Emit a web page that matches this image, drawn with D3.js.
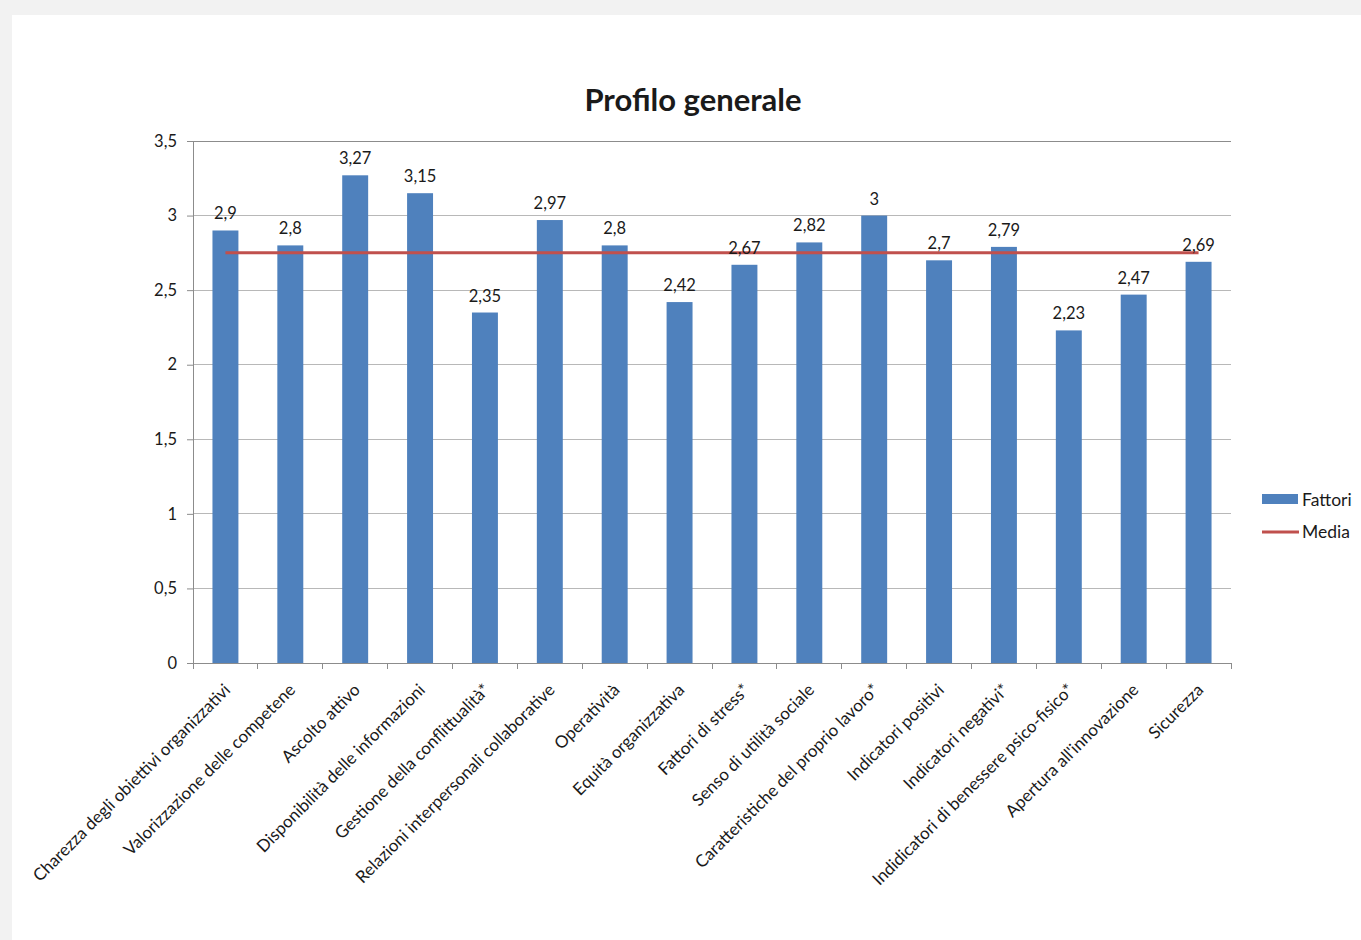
<!DOCTYPE html>
<html><head><meta charset="utf-8">
<script src="https://cdn.jsdelivr.net/npm/d3@7"></script>
<style>
html,body{margin:0;padding:0;background:#f2f2f2;}
svg{display:block;}
text{font-family:Lato,"Open Sans",sans-serif;fill:#1a1a1a;}
</style></head>
<body>
<svg id="c" width="1361" height="940"></svg>
<script>
const categories = ["Charezza degli obiettivi organizzativi","Valorizzazione delle competene","Ascolto attivo","Disponibilità delle informazioni","Gestione della conflittualità*","Relazioni interpersonali collaborative","Operatività","Equità organizzativa","Fattori di stress*","Senso di utilità sociale","Caratteristiche del proprio lavoro*","Indicatori positivi","Indicatori negativi*","Indidicatori di benessere psico-fisico*","Apertura all'innovazione","Sicurezza"];
const fattori = [2.9,2.8,3.27,3.15,2.35,2.97,2.8,2.42,2.67,2.82,3,2.7,2.79,2.23,2.47,2.69];
const media = [2.75,2.75,2.75,2.75,2.75,2.75,2.75,2.75,2.75,2.75,2.75,2.75,2.75,2.75,2.75,2.75];
const yTicks = [0,0.5,1,1.5,2,2.5,3,3.5];
const seriesNames = ["Fattori","Media"];

const svg = d3.select("#c");
svg.append("rect").attr("x",12).attr("y",15).attr("width",1349).attr("height",925).attr("fill","#fff");

const L=193,R=1231,T=141,B=663;
const x = d3.scaleBand().domain(categories).range([L,R]).paddingInner(0.6).paddingOuter(0.3);
const xb = d3.scaleBand().domain(categories).range([L,R]);
const y = d3.scaleLinear().domain([0,3.5]).range([B,T]);
const fmt = v => String(v).replace(".",",");

svg.append("text").attr("x",693).attr("y",111).attr("text-anchor","middle")
  .style("font-size","31px").style("font-weight","bold").text("Profilo generale");

// gridlines
svg.append("g").selectAll("line").data(yTicks.filter(d=>d>0)).join("line")
  .attr("x1",L).attr("x2",R).attr("y1",d=>y(d)).attr("y2",d=>y(d))
  .attr("stroke",d=>d===3.5?"#8c8c8c":"#b8b8b8").attr("stroke-width",1).attr("shape-rendering","crispEdges");

// y axis
const ya = svg.append("g").attr("transform",`translate(${L},0)`)
  .call(d3.axisLeft(y).tickValues(yTicks).tickSize(6).tickPadding(10).tickFormat(fmt));
ya.select(".domain").attr("stroke","#8c8c8c");
ya.selectAll(".tick line").attr("stroke","#8c8c8c");
ya.selectAll("text").style("font-size","16.5px").attr("fill","#1a1a1a").style("font-family","Lato");

// bars
svg.append("g").selectAll("rect").data(categories).join("rect")
  .attr("x",d=>x(d)).attr("width",x.bandwidth())
  .attr("y",(d,i)=>y(fattori[i])).attr("height",(d,i)=>y(0)-y(fattori[i]))
  .attr("fill","#4f81bd");

// x axis
const xa = svg.append("g").attr("transform",`translate(0,${B})`)
  .call(d3.axisBottom(xb).tickSize(0).tickFormat(""));
xa.select(".domain").attr("stroke","#8c8c8c");
svg.append("g").selectAll("line").data(d3.range(categories.length+1)).join("line")
  .attr("x1",i=>L+i*xb.step()).attr("x2",i=>L+i*xb.step()).attr("y1",B).attr("y2",B+6)
  .attr("stroke","#8c8c8c").attr("shape-rendering","crispEdges");

svg.append("g").selectAll("text").data(categories).join("text")
  .attr("transform",d=>`translate(${xb(d)+xb.bandwidth()/2+6},${B+28}) rotate(-45)`)
  .attr("text-anchor","end").style("font-size","17px").text(d=>d);

// media line
const line = d3.line().x((d,i)=>xb(categories[i])+xb.bandwidth()/2).y(d=>y(d));
svg.append("path").datum(media).attr("d",line).attr("fill","none")
  .attr("stroke","#c0504d").attr("stroke-width",3);

// data labels
svg.append("g").selectAll("text").data(categories).join("text")
  .attr("x",d=>x(d)+x.bandwidth()/2).attr("y",(d,i)=>y(fattori[i])-11)
  .attr("text-anchor","middle").style("font-size","16.5px").attr("fill","#262626")
  .text((d,i)=>fmt(fattori[i]));

// legend
const lg = svg.append("g");
lg.append("rect").attr("x",1262).attr("y",494).attr("width",36).attr("height",10).attr("fill","#4f81bd");
lg.append("text").attr("x",1302).attr("y",506).style("font-size","17.5px").text(seriesNames[0]);
lg.append("line").attr("x1",1262).attr("x2",1299).attr("y1",532).attr("y2",532).attr("stroke","#c0504d").attr("stroke-width",3);
lg.append("text").attr("x",1302).attr("y",538).style("font-size","17.5px").text(seriesNames[1]);
</script>
</body></html>
